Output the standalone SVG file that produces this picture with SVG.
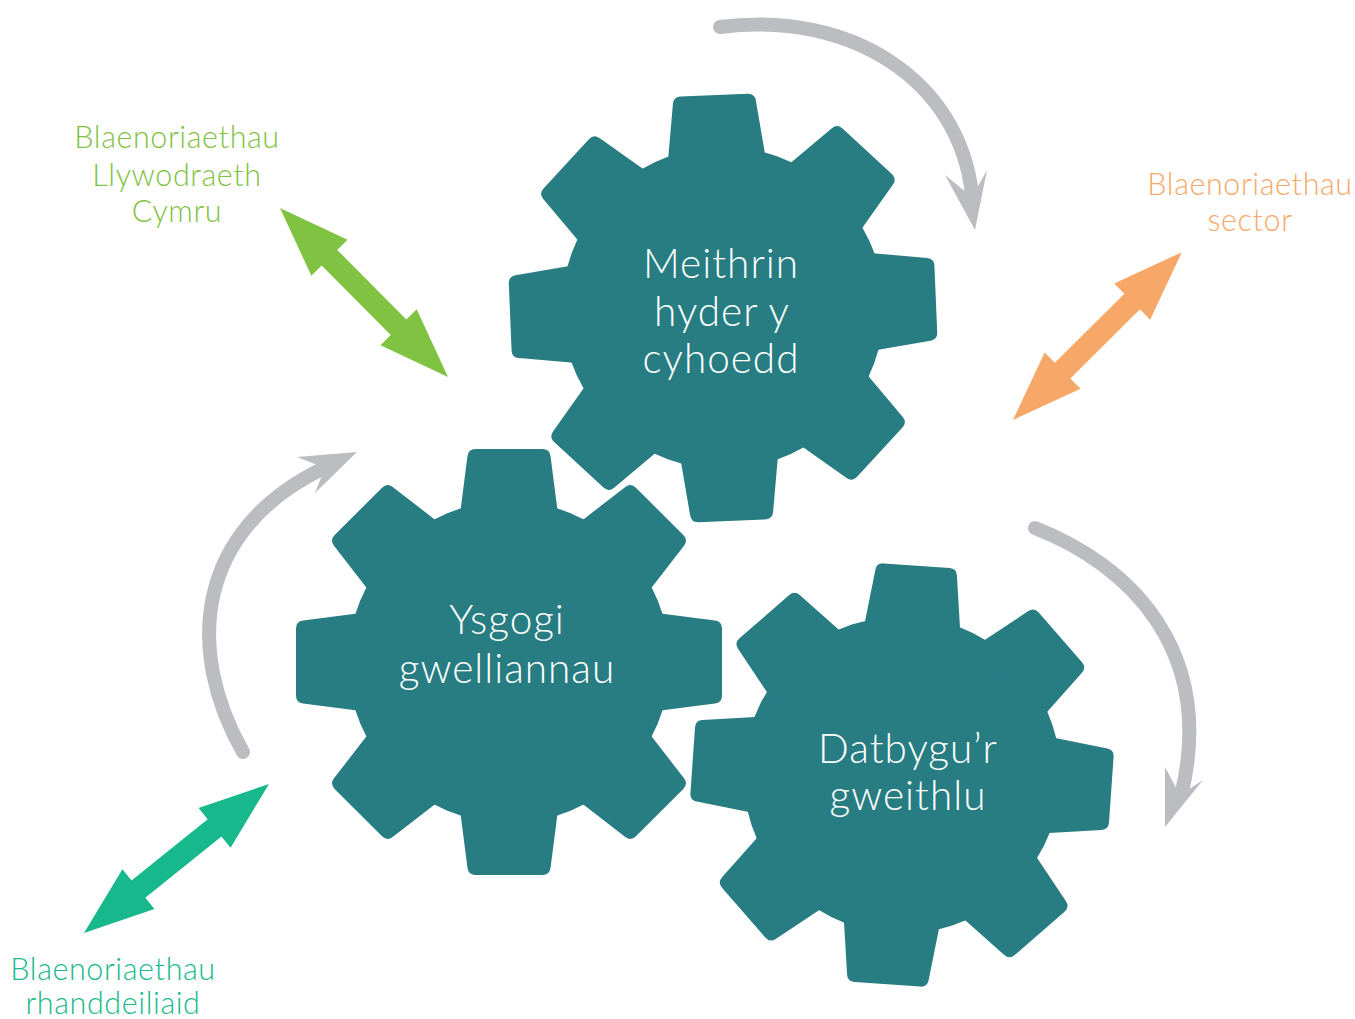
<svg xmlns="http://www.w3.org/2000/svg" xmlns:xlink="http://www.w3.org/1999/xlink" width="1355" height="1019" viewBox="0 0 1355 1019">
<style>
.gear{fill:#277d82}
.gt{fill:#ffffff;font-family:Lato,"Open Sans","Liberation Sans",sans-serif;font-weight:300;font-size:40.5px;letter-spacing:1px;text-anchor:middle}
.lbl{font-family:Lato,"Open Sans","Liberation Sans",sans-serif;font-weight:300;font-size:30.5px;letter-spacing:0.6px;text-anchor:middle}
.arc{fill:none;stroke:#bcbdc0;stroke-width:14;stroke-linecap:round}
.head{fill:#bcbdc0}
</style>
<defs>
<path id="tooth" d="M -50 -140 L -41.5 -206 Q -40.6 -213 -33.5 -213 L 33.5 -213 Q 40.6 -213 41.5 -206 L 50 -140 Z"/>
<g id="gearshape">
<circle r="161"/>
<use xlink:href="#tooth"/>
<use xlink:href="#tooth" transform="rotate(45)"/>
<use xlink:href="#tooth" transform="rotate(90)"/>
<use xlink:href="#tooth" transform="rotate(135)"/>
<use xlink:href="#tooth" transform="rotate(180)"/>
<use xlink:href="#tooth" transform="rotate(225)"/>
<use xlink:href="#tooth" transform="rotate(270)"/>
<use xlink:href="#tooth" transform="rotate(315)"/>
</g>
<path id="dbl" d="M 0 0 L 70 -25.5 L 70 -11 L 168 -11 L 168 -25.5 L 238 0 L 168 25.5 L 168 11 L 70 11 L 70 25.5 Z"/>
</defs>

<g id="connectors">
<path class="arc" d="M 720 27 C 850 10, 960 80, 972 195"/>
<path class="head" d="M 975 230 L 945 175 L 972 197 L 987 170 Z"/>
<path class="arc" d="M 243 752 C 185 650, 195 530, 324 468"/>
<path class="head" d="M 357 452 L 297 457 L 325 468 L 315 493 Z"/>
<path class="arc" d="M 1035 528 C 1130 565, 1215 650, 1182 792"/>
<path class="head" d="M 1165 827 L 1165 767 L 1180 795 L 1203 780 Z"/>
<use xlink:href="#dbl" fill="#80c242" transform="translate(280 208) rotate(45.17) scale(1.0013 1)"/>
<use xlink:href="#dbl" fill="#f7a868" transform="translate(1013 420) rotate(-44.83)"/>
<use xlink:href="#dbl" fill="#16b88c" transform="translate(84 933) rotate(-38.85) scale(0.998 1)"/>
</g>

<g id="gear-meithrin">
<use xlink:href="#gearshape" class="gear" transform="translate(723 308) rotate(-2.4)"/>
<text class="gt" x="721" y="278">Meithrin</text>
<text class="gt" x="722" y="326">hyder y</text>
<text class="gt" x="721" y="373">cyhoedd</text>
</g>

<g id="gear-ysgogi">
<use xlink:href="#gearshape" class="gear" transform="translate(509 662)"/>
<text class="gt" x="507" y="634">Ysgogi</text>
<text class="gt" x="507" y="683">gwelliannau</text>
</g>

<g id="gear-datbygu">
<use xlink:href="#gearshape" class="gear" transform="translate(902 775) rotate(4) scale(0.985)"/>
<text class="gt" x="908" y="763">Datbygu’r</text>
<text class="gt" x="908" y="810">gweithlu</text>
</g>

<g id="label-llywodraeth" fill="#80c242">
<text class="lbl" x="177" y="148">Blaenoriaethau</text>
<text class="lbl" x="177" y="186">Llywodraeth</text>
<text class="lbl" x="177" y="222">Cymru</text>
</g>

<g id="label-sector" fill="#f7a868">
<text class="lbl" x="1250" y="195">Blaenoriaethau</text>
<text class="lbl" x="1250" y="231">sector</text>
</g>

<g id="label-rhanddeiliaid" fill="#16b88c">
<text class="lbl" x="113" y="980">Blaenoriaethau</text>
<text class="lbl" x="113" y="1014">rhanddeiliaid</text>
</g>
</svg>
